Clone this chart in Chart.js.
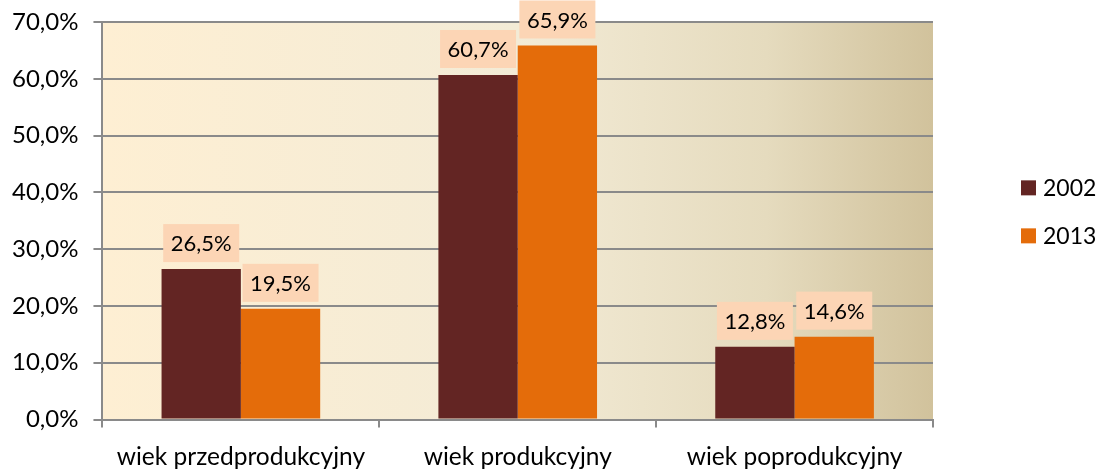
<!DOCTYPE html>
<html>
<head>
<meta charset="utf-8">
<script src="https://cdn.jsdelivr.net/npm/chart.js@4/dist/chart.umd.min.js"></script>
<style>
  html, body { margin: 0; padding: 0; background: #fff; }
  #wrap { width: 1101px; height: 469px; }
</style>
</head>
<body>
<div id="wrap"><canvas id="myChart" width="1101" height="469"></canvas></div>
<script>
let ageGroups = ['wiek przedprodukcyjny', 'wiek produkcyjny', 'wiek poprodukcyjny'];
let seriesNames = ['2002', '2013'];
let values2002 = [26.5, 60.7, 12.8];
let values2013 = [19.5, 65.9, 14.6];
let yTicks = [0, 10, 20, 30, 40, 50, 60, 70];

const COLORS = ['#632523', '#E46C0A'];
const FONT = 'Lato, "Noto Sans", sans-serif';

function plPercent(v) {
    return v.toFixed(1).replace('.', ',') + '%';
}

// gradient tło obszaru wykresu
const plotBackground = {
    id: 'plotBackground',
    beforeDraw(chart) {
        const {ctx, chartArea: a} = chart;
        const g = ctx.createLinearGradient(a.left, 0, a.right, 0);
        g.addColorStop(0, '#FEEFD3');
        g.addColorStop(0.5, '#F3EBD6');
        g.addColorStop(0.8, '#E5DBBE');
        g.addColorStop(1, '#D1C29C');
        ctx.save();
        ctx.fillStyle = g;
        ctx.fillRect(a.left, a.top, a.right - a.left, a.bottom - a.top);
        ctx.restore();
    }
};

// etykiety danych w brzoskwiniowych ramkach
const valueBoxes = {
    id: 'valueBoxes',
    afterDatasetsDraw(chart) {
        const ctx = chart.ctx;
        ctx.save();
        ctx.font = '22px ' + FONT;
        ctx.textAlign = 'center';
        ctx.textBaseline = 'middle';
        chart.data.datasets.forEach((ds, i) => {
            chart.getDatasetMeta(i).data.forEach((bar, j) => {
                const w = 76, h = 38, gap = 7;
                const top = bar.y - gap - h;
                ctx.fillStyle = '#FCD5B5';
                ctx.fillRect(bar.x - w / 2, top, w, h);
                ctx.fillStyle = '#000';
                ctx.fillText(plPercent(ds.data[j]), bar.x, top + h / 2 + 1);
            });
        });
        ctx.restore();
    }
};

// legenda po prawej stronie
const sideLegend = {
    id: 'sideLegend',
    afterDraw(chart) {
        const {ctx, chartArea: a} = chart;
        const x = a.right + 88;
        const midY = (a.top + a.bottom) / 2 - 9;
        ctx.save();
        ctx.font = '23px ' + FONT;
        ctx.textBaseline = 'middle';
        chart.data.datasets.forEach((ds, i) => {
            const cy = midY + (i - 0.5) * 48;
            ctx.fillStyle = ds.backgroundColor;
            ctx.fillRect(x, cy - 7.5, 15, 15);
            ctx.fillStyle = '#000';
            ctx.fillText(ds.label, x + 22, cy + 1);
        });
        ctx.restore();
    }
};

let chartElement = document.getElementById('myChart').getContext('2d');

let myChart = new Chart(chartElement, {
    type: 'bar',
    data: {
        labels: ageGroups,
        datasets: [
            { label: seriesNames[0], data: values2002, backgroundColor: COLORS[0] },
            { label: seriesNames[1], data: values2013, backgroundColor: COLORS[1] }
        ]
    },
    options: {
        responsive: false,
        animation: false,
        events: [],
        datasets: {
            bar: { barPercentage: 1, categoryPercentage: 0.573 }
        },
        layout: {
            padding: { left: -3, right: 168, top: 0, bottom: -17 }
        },
        plugins: {
            legend: { display: false },
            tooltip: { enabled: false }
        },
        scales: {
            x: {
                grid: {
                    offset: true,
                    drawOnChartArea: false,
                    drawTicks: true,
                    tickLength: 8,
                    color: '#8A8A8A',
                    lineWidth: 2
                },
                border: { color: '#8A8A8A', width: 2 },
                ticks: {
                    color: '#000',
                    font: { family: FONT, size: 24.5, lineHeight: 1 },
                    padding: 17
                }
            },
            y: {
                min: 0,
                max: 70,
                afterBuildTicks(scale) {
                    scale.ticks = yTicks.map(v => ({ value: v }));
                },
                grid: {
                    color: '#8A8A8A',
                    lineWidth: 2,
                    tickLength: 9
                },
                border: { color: '#8A8A8A', width: 2 },
                ticks: {
                    color: '#000',
                    font: { family: FONT, size: 24, lineHeight: 0.6 },
                    padding: 15,
                    callback: v => plPercent(v)
                }
            }
        }
    },
    plugins: [plotBackground, valueBoxes, sideLegend]
});
</script>
</body>
</html>
